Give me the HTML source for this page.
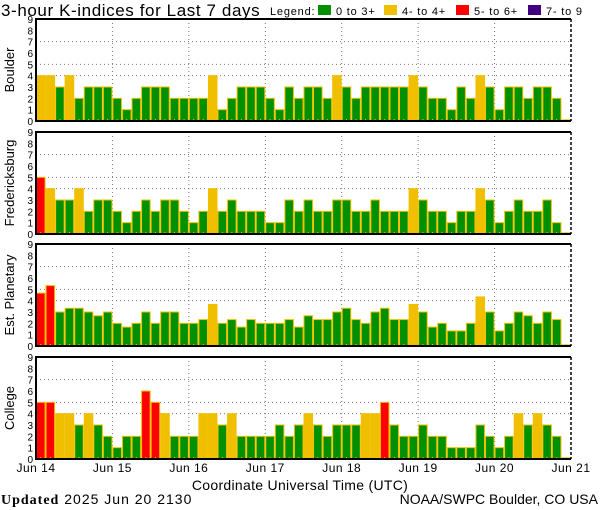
<!DOCTYPE html>
<html><head><meta charset="utf-8"><style>
html,body{margin:0;padding:0;background:#fff;}
svg{display:block;font-family:"Liberation Sans",sans-serif;}
</style></head><body>
<svg id="chart" width="600" height="510" viewBox="0 0 600 510" xmlns="http://www.w3.org/2000/svg">
<text x="1" y="16" font-size="17" letter-spacing="0.6">3-hour K-indices for Last 7 days</text>
<g font-size="11" letter-spacing="0.8">
<text x="270" y="15">Legend:</text>
<rect x="318" y="5" width="13" height="10" fill="#009000"/>
<text x="336" y="15">0 to 3+</text>
<rect x="384" y="5" width="13" height="10" fill="#f0c000"/>
<text x="402" y="15">4- to 4+</text>
<rect x="456" y="5" width="13" height="10" fill="#ff0000"/>
<text x="474" y="15">5- to 6+</text>
<rect x="528" y="5" width="13" height="10" fill="#400080"/>
<text x="546" y="15">7- to 9</text>
</g>
<g id="panels"></g>
<text x="300" y="490" font-size="14" text-anchor="middle" letter-spacing="0.3">Coordinate Universal Time (UTC)</text>
<text x="1" y="504" font-size="14" letter-spacing="1"><tspan font-weight="bold" font-family="Liberation Serif, serif">Updated</tspan> 2025 Jun 20 2130</text>
<text x="598" y="504" font-size="14" text-anchor="end">NOAA/SWPC Boulder, CO USA</text>
</svg>
<script>
const dayLabels = ["Jun 14","Jun 15","Jun 16","Jun 17","Jun 18","Jun 19","Jun 20","Jun 21"];
const stations = ["Boulder","Fredericksburg","Est. Planetary","College"];
const boulder = [4,4,3,4,2,3,3,3, 2,1,2,3,3,3,2,2, 2,2,4,1,2,3,3,3, 2,1,3,2,3,3,2,4, 3,2,3,3,3,3,3,4, 3,2,2,1,3,2,4,3, 1,3,3,2,3,3,2,0];
const fredericksburg = [5,4,3,3,4,2,3,3, 2,1,2,3,2,3,3,2, 1,2,4,2,3,2,2,2, 1,1,3,2,3,2,2,3, 3,2,2,3,2,2,2,4, 3,2,2,1,2,2,4,3, 1,2,3,2,2,3,1,0];
const planetary = [4.67,5.33,3,3.33,3.33,3,2.67,3, 2,1.67,2,3,2,3,3,2, 2,2.33,3.67,2,2.33,1.67,2.33,2, 2,2,2.33,1.67,2.67,2.33,2.33,3, 3.33,2.33,2,3,3.33,2.33,2.33,3.67, 3,1.67,2,1.33,1.33,2,4.33,3, 1.33,2,3,2.67,2,3,2.33,0];
const college = [5,5,4,4,3,4,3,2, 1,2,2,6,5,4,2,2, 2,4,4,3,4,2,2,2, 2,3,2,3,4,3,2,3, 3,3,4,4,5,3,2,2, 3,2,2,1,1,1,3,2, 1,2,4,3,4,3,2,0];
const yTicks = [0,1,2,3,4,5,6,7,8,9];

const series = [boulder, fredericksburg, planetary, college];
const NS = "http://www.w3.org/2000/svg";
const X0 = 36, X1 = 571, panelTops = [19,132,244,357], PH = 102;
const nBars = 56;
const xScale = i => X0 + (X1 - X0) * i / nBars;
const yScale = (v, top) => top + PH - v * (PH / 9);
function colorFor(v){ return v < 3.5 ? "#009000" : v < 4.5 ? "#f0c000" : v < 6.5 ? "#ff0000" : "#400080"; }
function mk(tag, attrs, parent){ const e = document.createElementNS(NS, tag); for (const k in attrs) e.setAttribute(k, attrs[k]); parent.appendChild(e); return e; }
const root = document.getElementById("panels");
stations.forEach((name, p) => {
  const top = panelTops[p], bot = top + PH;
  const g = mk("g", {}, root);
  
  
  [4,5,7].forEach(v => {
    const l = mk("line", {x1:X0, x2:X1, y1:yScale(v,top), y2:yScale(v,top), stroke:"#777", "stroke-width":1, "stroke-dasharray":"1,3"}, g);
    
    
  });
  for (let d = 1; d < 7; d++) {
    const x = xScale(d*8);
    const l = mk("line", {x1:x, x2:x, y1:top, y2:bot, stroke:"#777", "stroke-width":1, "stroke-dasharray":"1,3"}, g);
    
    
  }
  const vals = series[p];
  vals.forEach((v, i) => {
    const x = xScale(i), w = xScale(i+1) - x;
    const yv = yScale(Math.max(v, 0.1), top);
    const r = mk("rect", {x:x+0.5, y:yv, width:w-1, height:bot-yv, fill:colorFor(v), stroke:"#f0c000", "stroke-width":1}, g);
    
    
    const t = mk("line", {x1:x+w/2, x2:x+w/2, y1:bot-2, y2:bot, stroke:"#f0c000", "stroke-width":1}, g);
    
    
  });
  const ax = mk("path", {d:`M${X1},${top} L${X0},${top} L${X0},${bot} L${X1},${bot}`, fill:"none", stroke:"#000", "stroke-width":2}, g);
  
  
  const rx = mk("line", {x1:X1, x2:X1, y1:top, y2:bot, stroke:"#000", "stroke-width":1.5, "stroke-dasharray":"3,2"}, g);
  
  
  yTicks.forEach(v => {
    const t = mk("text", {x:33, y:yScale(v,top)+4, "font-size":10, "text-anchor":"end"}, g);
    t.textContent = v;
    
    
  });
  const lbl = mk("text", {x:0, y:0, "font-size":13, "text-anchor":"middle", transform:`translate(14,${top+PH/2}) rotate(-90)`}, g);
  lbl.textContent = name;
  
  
});
dayLabels.forEach((d, i) => {
  const t = mk("text", {x:xScale(i*8), y:472, "font-size":12, "text-anchor":"middle", "letter-spacing":0.5}, root);
  t.textContent = d;
  
  
});
</script>
</body></html>
